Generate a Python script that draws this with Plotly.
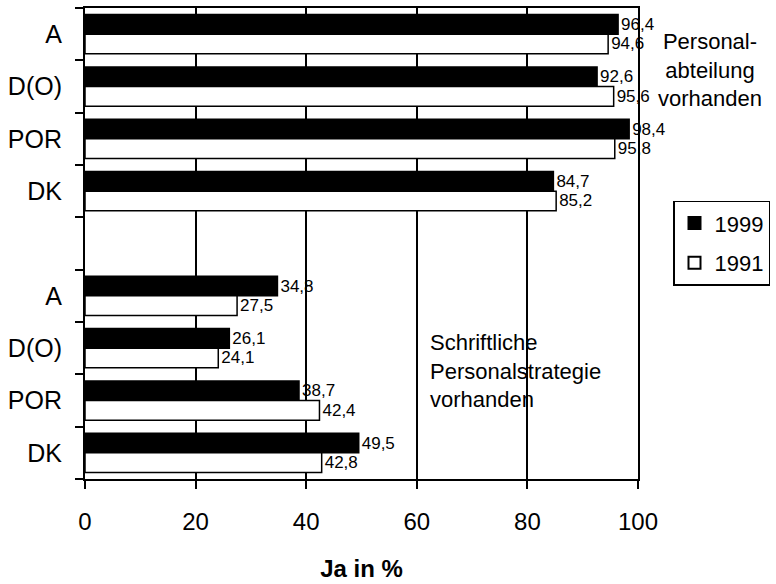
import plotly.graph_objects as go

categories = ["A", "D(O)", "POR", "DK"]
abteilung_1999 = [96.4, 92.6, 98.4, 84.7]
abteilung_1991 = [94.6, 95.6, 95.8, 85.2]
strategie_1999 = [34.8, 26.1, 38.7, 49.5]
strategie_1991 = [27.5, 24.1, 42.4, 42.8]
x_ticks = [0, 20, 40, 60, 80, 100]

# slot indexes (top to bottom): group 1, one empty slot, group 2
n = len(categories)
pos = list(range(n)) + list(range(n + 1, 2 * n + 1))
labels = categories + categories
v1999 = abteilung_1999 + strategie_1999
v1991 = abteilung_1991 + strategie_1991

def fmt(v):
    return f"{v:.1f}".replace(".", ",")

FONT = "Liberation Sans, Arial, sans-serif"

fig = go.Figure()
fig.add_trace(go.Bar(
    name="1999", y=pos, x=v1999, orientation="h", legendgroup="a",
    marker=dict(color="black", line=dict(color="black", width=1.5)),
    text=[fmt(v) for v in v1999], textposition="outside", constraintext="none",
    textfont=dict(size=17, color="black", family=FONT), cliponaxis=False,
))
fig.add_trace(go.Bar(
    name="1991", y=pos, x=v1991, orientation="h", legendgroup="b",
    marker=dict(color="white", line=dict(color="black", width=1.5)),
    text=[fmt(v) for v in v1991], textposition="outside", constraintext="none",
    textfont=dict(size=17, color="black", family=FONT), cliponaxis=False,
))

fig.update_layout(
    width=776, height=584,
    margin=dict(l=85, r=138, t=6, b=104),
    paper_bgcolor="white", plot_bgcolor="white",
    barmode="group", bargap=0.25, bargroupgap=0,
    font=dict(family=FONT, color="black"),
    showlegend=True,
    legend=dict(x=(673 - 85) / 553, y=(480 - 200) / 474, xanchor="left", yanchor="top",
                bordercolor="black", borderwidth=1.5, bgcolor="white",
                font=dict(size=22), traceorder="grouped", tracegroupgap=8,
                itemsizing="constant"),
    xaxis=dict(range=[0, 100], tickvals=x_ticks, ticks="outside", ticklen=8,
               tickwidth=2, tickcolor="black", showline=True, linecolor="black",
               linewidth=2, mirror=True, showgrid=True, gridcolor="black",
               gridwidth=1.5, zeroline=False, tickfont=dict(size=24),
               ticklabelstandoff=12,
               title=dict(text="<b>Ja in %</b>", font=dict(size=24), standoff=26)),
    yaxis=dict(range=[2 * n + 0.5, -0.5], tickvals=pos, ticktext=labels,
               ticks="", showline=True, linecolor="black", linewidth=2,
               mirror=True, showgrid=False, zeroline=False,
               tickfont=dict(size=25), ticklabelstandoff=16,
               minor=dict(tickvals=[p - 0.5 for p in range(2 * n + 2)],
                          ticks="outside", ticklen=8, tickwidth=2,
                          tickcolor="black", showgrid=False)),
)

fig.add_annotation(xref="paper", yref="paper", x=(710 - 85) / 553, y=(480 - 68) / 474,
                   text="Personal-<br>abteilung<br>vorhanden", showarrow=False,
                   align="center", font=dict(size=22), xanchor="center", yanchor="middle")
fig.add_annotation(xref="x", yref="paper", x=62, y=(480 - 371) / 474,
                   text="Schriftliche<br>Personalstrategie<br>vorhanden", showarrow=False,
                   align="left", font=dict(size=22), xanchor="left", yanchor="middle")

fig.write_html("out.html", config={"displayModeBar": False},
               post_script="document.body.style.margin='0';")
